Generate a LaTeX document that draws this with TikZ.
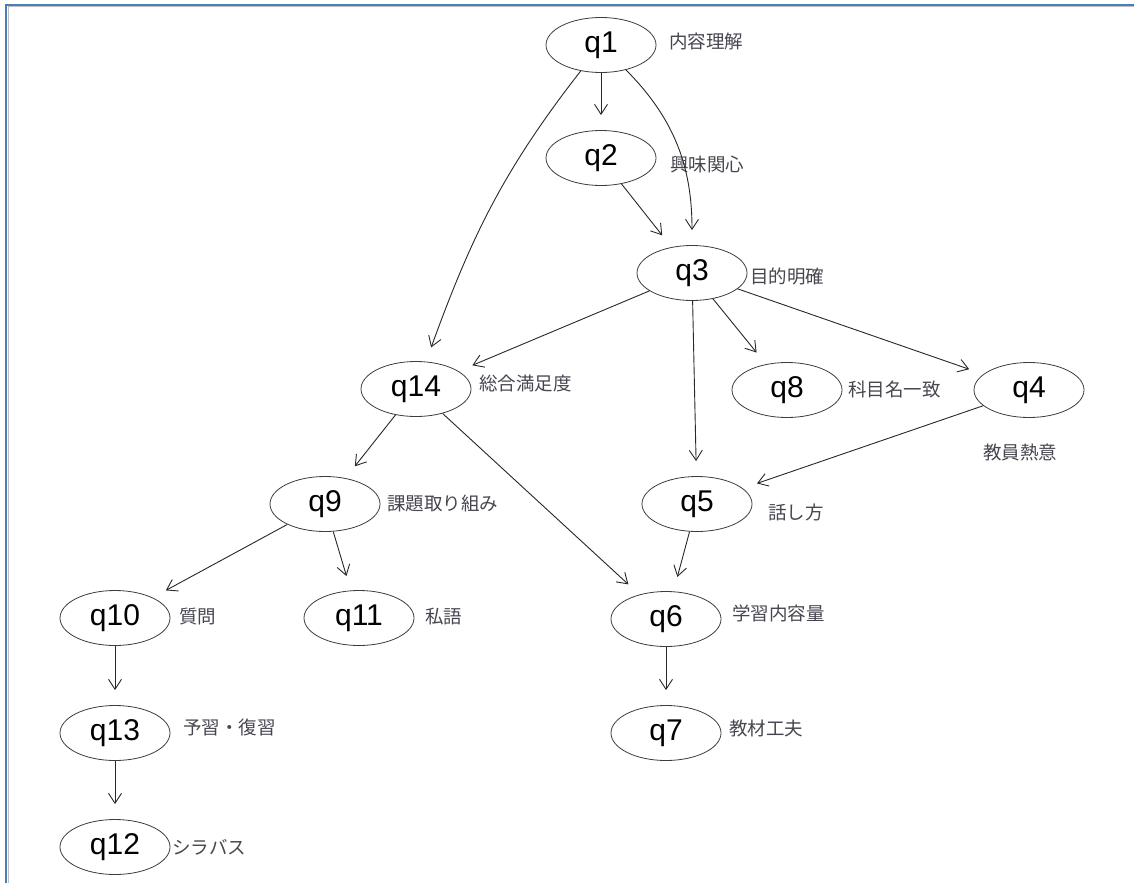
\documentclass[tikz,border=0pt]{standalone}
\usepackage{fontspec}
\setmainfont{Liberation Sans}
\newfontfamily\jp{Noto Sans CJK JP}
\usetikzlibrary{shapes.geometric,arrows.meta}
\definecolor{frameblue}{RGB}{74,126,187}
\definecolor{edgecol}{RGB}{40,40,40}
\definecolor{labcol}{RGB}{70,70,80}
\tikzset{
  qnode/.style={ellipse, draw=edgecol!90, line width=0.8pt, minimum width=110pt, minimum height=55pt, inner sep=0pt, font=\fontsize{30}{34}\selectfont},
  qlab/.style={anchor=west, inner sep=0pt, text=labcol, font=\jp\fontsize{18.5}{20}\selectfont},
  arr/.style={draw=edgecol, line width=0.9pt, -{Straight Barb[length=10pt,width=13pt]}, shorten >=15pt}
}
\begin{document}
\begin{tikzpicture}[x=1pt,y=-1pt]
\useasboundingbox (0,0) rectangle (1134,883);
\fill[white] (0,0) rectangle (1134,883);
% frame
\draw[black!25, line width=1pt] (8,7) -- (1134,7);
\draw[black!25, line width=1pt] (8,7) -- (8,883);
\draw[frameblue, line width=2pt] (6,5) -- (1134,5);
\draw[frameblue, line width=2pt] (6,4) -- (6,883);

% nodes
\node[qnode] (q1) at (601,45) {q1};
\node[qnode] (q2) at (601,158) {q2};
\node[qnode] (q3) at (692,273) {q3};
\node[qnode] (q14) at (416,389) {q14};
\node[qnode] (q8) at (787,390) {q8};
\node[qnode] (q4) at (1029,390) {q4};
\node[qnode] (q9) at (325,504) {q9};
\node[qnode] (q5) at (697,504) {q5};
\node[qnode] (q10) at (115,618) {q10};
\node[qnode] (q11) at (359,618) {q11};
\node[qnode] (q6) at (666,619) {q6};
\node[qnode] (q13) at (115,733) {q13};
\node[qnode] (q7) at (666,733) {q7};
\node[qnode] (q12) at (115,847) {q12};

% labels
\node[qlab] (l1) at (669,41) {内容理解};
\node[qlab] (l2) at (670,165) {興味関心};
\node[qlab] (l3) at (750,276) {目的明確};
\node[qlab] (l14) at (479,383) {総合満足度};
\node[qlab] (l8) at (848,389) {科目名一致};
\node[qlab] (l4) at (983,452) {教員熱意};
\node[qlab] (l9) at (387,503) {課題取り組み};
\node[qlab] (l5) at (768,512) {話し方};
\node[qlab] (l10) at (179,617) {質問};
\node[qlab] (l11) at (425,617) {私語};
\node[qlab] (l6) at (732,613) {学習内容量};
\node[qlab] (l13) at (183,727) {予習・復習};
\node[qlab] (l7) at (729,728) {教材工夫};
\node[qlab] (l12) at (172,847) {シラバス};

% edges
\draw[arr] (q1) -- (q2);
\draw[arr] (q1) to[out=-45,in=90] (q3);
\draw[arr] (q1) to[out=-128,in=70] (q14);
\draw[arr] (q2) -- (q3);
\draw[arr] (q3) -- (q14);
\draw[arr] (q3) -- (q8);
\draw[arr] (q3) -- (q4);
\draw[arr] (q3) -- (q5);
\draw[arr] (q4) -- (q5);
\draw[arr] (q14) -- (q9);
\draw[arr] (q14) -- (q6);
\draw[arr] (q5) -- (q6);
\draw[arr] (q6) -- (q7);
\draw[arr] (q9) -- (q10);
\draw[arr] (q9) -- (q11);
\draw[arr] (q10) -- (q13);
\draw[arr] (q13) -- (q12);
\end{tikzpicture}
\end{document}
